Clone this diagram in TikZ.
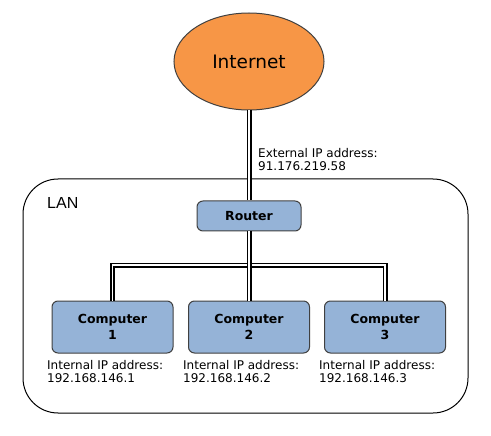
\documentclass[tikz,border=0pt]{standalone}
\usepackage{fontspec}
\setmainfont{DejaVu Sans}
\newfontfamily\lanfont{Liberation Sans}
\usetikzlibrary{shapes.geometric}
\definecolor{inetorange}{HTML}{F79646}
\definecolor{boxblue}{HTML}{95B3D7}
\definecolor{edgegray}{HTML}{404040}
\tikzset{
  devbox/.style={draw=edgegray, line width=1pt, fill=boxblue, rounded corners=6pt,
    inner sep=0pt, align=center, font=\fontsize{12.5}{16}\selectfont\bfseries},
  cable/.style={draw=black, line width=1.6pt, double=white, double distance=1.8pt},
  iplabel/.style={anchor=north west, inner sep=0pt, align=left,
    font=\fontsize{12}{13.5}\selectfont}
}
\begin{document}
\begin{tikzpicture}[x=1pt,y=-1pt]
\useasboundingbox (0,0) rectangle (491,436);
% LAN area
\draw[line width=1pt, rounded corners=35pt] (23,179) rectangle (468,413);
\node[anchor=base west, inner sep=0pt, font=\lanfont\fontsize{16}{18}\selectfont] (lan) at (47,208.3) {LAN};
% Internet
\node[ellipse, draw=edgegray, line width=1pt, fill=inetorange, minimum width=150pt, minimum height=97pt,
  inner sep=0pt, font=\fontsize{18.5}{20}\selectfont] (inet) at (249,61.5) {Internet};
% devices
\node[devbox, minimum width=104pt, minimum height=30pt] (router) at (249,216) {Router};
\node[devbox, minimum width=121pt, minimum height=52pt] (c1) at (112.5,327) {Computer\\1};
\node[devbox, minimum width=121pt, minimum height=52pt] (c2) at (249,327) {Computer\\2};
\node[devbox, minimum width=121pt, minimum height=52pt] (c3) at (385,327) {Computer\\3};
\coordinate (bus) at (249,265);
% cables
\draw[cable] (c1.north) |- (bus) -| (c3.north);
\draw[cable] (inet.south) -- (router.north);
\draw[cable] (router.south) -- (c2.north);
% labels
\node[iplabel] (ext) at (258,148) {External IP address:\\91.176.219.58};
\node[iplabel] (ip1) at (47,360) {Internal IP address:\\192.168.146.1};
\node[iplabel] (ip2) at (183,360) {Internal IP address:\\192.168.146.2};
\node[iplabel] (ip3) at (319,360) {Internal IP address:\\192.168.146.3};
\end{tikzpicture}
\end{document}
